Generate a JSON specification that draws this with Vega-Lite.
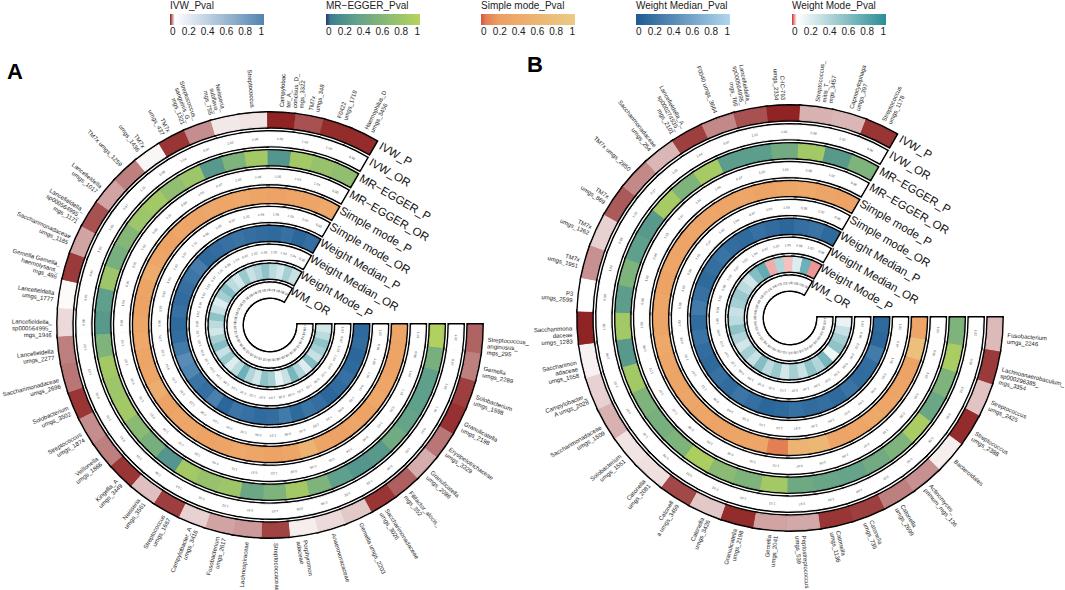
{
"$schema":"https://vega.github.io/schema/vega-lite/v6.json",
"width":1065,"height":590,"padding":0,"autosize":{"type":"none"},"background":"white",
"config":{"view":{"stroke":null},"font":"Liberation Sans",
"legend":{"titleFontSize":10,"titleFontWeight":"normal","labelFontSize":10,"titleColor":"#222","labelColor":"#222","titleFont":"Liberation Sans","labelFont":"Liberation Sans","gradientStrokeWidth":0,"titlePadding":3,"labelOffset":3,"direction":"horizontal","gradientLength":94,"gradientThickness":11,"orient":"none","labelOverlap":false}},
"datasets":{
"taxa":[
{"p":"A","i":0,"n":"Streptococcus_\nanginosus_\nmgs_295","IVW_P":0.016,"IVW_OR":1.02,"EGG_P":0.95,"EGG_OR":1.01,"SM_P":0.3,"SM_OR":1.03,"WMe_P":0.12,"WMe_OR":1.02,"WMo_P":0.25,"WM_OR":1.03},
{"p":"A","i":1,"n":"Gemella\numgs_2289","IVW_P":0.022,"IVW_OR":0.97,"EGG_P":0.5,"EGG_OR":0.98,"SM_P":0.28,"SM_OR":0.96,"WMe_P":0.15,"WMe_OR":0.97,"WMo_P":0.35,"WM_OR":0.96},
{"p":"A","i":2,"n":"Solobacterium\numgs_1598","IVW_P":0.008,"IVW_OR":1.03,"EGG_P":0.3,"EGG_OR":1.04,"SM_P":0.25,"SM_OR":1.05,"WMe_P":0.1,"WMe_OR":1.03,"WMo_P":0.55,"WM_OR":1.04},
{"p":"A","i":3,"n":"Granulicatella\numgs_2198","IVW_P":0.005,"IVW_OR":1.04,"EGG_P":0.3,"EGG_OR":1.05,"SM_P":0.3,"SM_OR":1.04,"WMe_P":0.12,"WMe_OR":1.04,"WMo_P":0.45,"WM_OR":1.05},
{"p":"A","i":4,"n":"Erysipelotrichaceae\numgs_3329","IVW_P":0.02,"IVW_OR":0.97,"EGG_P":0.35,"EGG_OR":0.96,"SM_P":0.35,"SM_OR":0.97,"WMe_P":0.18,"WMe_OR":0.97,"WMo_P":0.3,"WM_OR":0.97},
{"p":"A","i":5,"n":"Granulicatella\numgs_2086","IVW_P":0.032,"IVW_OR":1.02,"EGG_P":0.45,"EGG_OR":1.02,"SM_P":0.25,"SM_OR":1.03,"WMe_P":0.14,"WMe_OR":1.02,"WMo_P":0.6,"WM_OR":1.02},
{"p":"A","i":6,"n":"Filifactor_alocis_\nmgs_352","IVW_P":0.015,"IVW_OR":0.96,"EGG_P":0.25,"EGG_OR":0.95,"SM_P":0.3,"SM_OR":0.96,"WMe_P":0.1,"WMe_OR":0.96,"WMo_P":0.2,"WM_OR":0.95},
{"p":"A","i":7,"n":"Saccharimonadaceae\numgs_3026","IVW_P":0.006,"IVW_OR":1.03,"EGG_P":0.22,"EGG_OR":1.04,"SM_P":0.22,"SM_OR":1.03,"WMe_P":0.16,"WMe_OR":1.03,"WMo_P":0.4,"WM_OR":1.04},
{"p":"A","i":8,"n":"Gemella umgs_2203","IVW_P":0.038,"IVW_OR":1.02,"EGG_P":0.3,"EGG_OR":1.01,"SM_P":0.28,"SM_OR":1.02,"WMe_P":0.2,"WMe_OR":1.02,"WMo_P":0.65,"WM_OR":1.01},
{"p":"A","i":9,"n":"Anaerovoracaceae","IVW_P":0.042,"IVW_OR":0.98,"EGG_P":0.55,"EGG_OR":0.98,"SM_P":0.55,"SM_OR":0.99,"WMe_P":0.12,"WMe_OR":0.98,"WMo_P":0.3,"WM_OR":0.98},
{"p":"A","i":10,"n":"Porphyromon\nadaceae","IVW_P":0.046,"IVW_OR":0.98,"EGG_P":0.85,"EGG_OR":0.99,"SM_P":0.3,"SM_OR":0.98,"WMe_P":0.25,"WMe_OR":0.98,"WMo_P":0.15,"WM_OR":0.99},
{"p":"A","i":11,"n":"Streptococcaceae","IVW_P":0.009,"IVW_OR":1.03,"EGG_P":0.55,"EGG_OR":1.02,"SM_P":0.26,"SM_OR":1.03,"WMe_P":0.15,"WMe_OR":1.03,"WMo_P":0.45,"WM_OR":1.02},
{"p":"A","i":12,"n":"Lachnospiraceae","IVW_P":0.028,"IVW_OR":0.97,"EGG_P":0.4,"EGG_OR":0.97,"SM_P":0.3,"SM_OR":0.96,"WMe_P":0.13,"WMe_OR":0.97,"WMo_P":0.55,"WM_OR":0.97},
{"p":"A","i":13,"n":"Fusobacterium\numgs_2617","IVW_P":0.03,"IVW_OR":1.02,"EGG_P":0.8,"EGG_OR":1.01,"SM_P":0.35,"SM_OR":1.02,"WMe_P":0.18,"WMe_OR":1.02,"WMo_P":0.25,"WM_OR":1.01},
{"p":"A","i":14,"n":"Campylobacter_A\numgs_3416","IVW_P":0.04,"IVW_OR":0.98,"EGG_P":0.75,"EGG_OR":0.99,"SM_P":0.28,"SM_OR":0.98,"WMe_P":0.22,"WMe_OR":0.98,"WMo_P":0.4,"WM_OR":0.98},
{"p":"A","i":15,"n":"Streptococcus\numgs_1667","IVW_P":0.008,"IVW_OR":1.04,"EGG_P":0.85,"EGG_OR":1.05,"SM_P":0.24,"SM_OR":1.04,"WMe_P":0.1,"WMe_OR":1.04,"WMo_P":0.7,"WM_OR":1.05},
{"p":"A","i":16,"n":"Neisseria\numgs_3561","IVW_P":0.036,"IVW_OR":0.98,"EGG_P":0.22,"EGG_OR":0.97,"SM_P":0.3,"SM_OR":0.98,"WMe_P":0.3,"WMe_OR":0.98,"WMo_P":0.35,"WM_OR":0.97},
{"p":"A","i":17,"n":"Kingella_A\numgs_3449","IVW_P":0.006,"IVW_OR":1.04,"EGG_P":0.5,"EGG_OR":1.04,"SM_P":0.32,"SM_OR":1.05,"WMe_P":0.16,"WMe_OR":1.04,"WMo_P":0.2,"WM_OR":1.04},
{"p":"A","i":18,"n":"Veillonella\numgs_1866","IVW_P":0.022,"IVW_OR":0.97,"EGG_P":0.65,"EGG_OR":0.97,"SM_P":0.25,"SM_OR":0.97,"WMe_P":0.2,"WMe_OR":0.97,"WMo_P":0.5,"WM_OR":0.96},
{"p":"A","i":19,"n":"Streptococcus\numgs_1874","IVW_P":0.025,"IVW_OR":1.02,"EGG_P":0.85,"EGG_OR":1.02,"SM_P":0.45,"SM_OR":1.01,"WMe_P":0.35,"WMe_OR":1.02,"WMo_P":0.3,"WM_OR":1.02},
{"p":"A","i":20,"n":"Solobacterium\numgs_3502","IVW_P":0.006,"IVW_OR":0.95,"EGG_P":0.8,"EGG_OR":0.95,"SM_P":0.3,"SM_OR":0.94,"WMe_P":0.4,"WMe_OR":0.95,"WMo_P":0.6,"WM_OR":0.95},
{"p":"A","i":21,"n":"Saccharimonadaceae\numgs_2696","IVW_P":0.02,"IVW_OR":1.03,"EGG_P":0.85,"EGG_OR":1.02,"SM_P":0.28,"SM_OR":1.03,"WMe_P":0.25,"WMe_OR":1.03,"WMo_P":0.45,"WM_OR":1.02},
{"p":"A","i":22,"n":"Lancefieldella\numgs_2277","IVW_P":0.022,"IVW_OR":1.02,"EGG_P":0.55,"EGG_OR":1.02,"SM_P":0.35,"SM_OR":1.01,"WMe_P":0.15,"WMe_OR":1.02,"WMo_P":0.25,"WM_OR":1.02},
{"p":"A","i":23,"n":"Lancefieldella_\nsp000564995_\nmgs_1946","IVW_P":0.042,"IVW_OR":0.98,"EGG_P":0.25,"EGG_OR":0.98,"SM_P":0.3,"SM_OR":0.98,"WMe_P":0.12,"WMe_OR":0.98,"WMo_P":0.35,"WM_OR":0.98},
{"p":"A","i":24,"n":"Lancefieldella\numgs_1777","IVW_P":0.049,"IVW_OR":1.02,"EGG_P":0.3,"EGG_OR":1.01,"SM_P":0.25,"SM_OR":1.02,"WMe_P":0.18,"WMe_OR":1.02,"WMo_P":0.55,"WM_OR":1.01},
{"p":"A","i":25,"n":"Gemella Gemella_\nhaemolysans_\nmgs_486","IVW_P":0.007,"IVW_OR":0.96,"EGG_P":0.8,"EGG_OR":0.96,"SM_P":0.28,"SM_OR":0.95,"WMe_P":0.14,"WMe_OR":0.96,"WMo_P":0.3,"WM_OR":0.96},
{"p":"A","i":26,"n":"Saccharimonadaceae\numgs_1185","IVW_P":0.03,"IVW_OR":1.02,"EGG_P":0.5,"EGG_OR":1.02,"SM_P":0.4,"SM_OR":1.03,"WMe_P":0.16,"WMe_OR":1.02,"WMo_P":0.2,"WM_OR":1.02},
{"p":"A","i":27,"n":"Lancefieldella_\nsp000564995_\nmgs_1171","IVW_P":0.012,"IVW_OR":1.03,"EGG_P":0.6,"EGG_OR":1.03,"SM_P":0.3,"SM_OR":1.02,"WMe_P":0.22,"WMe_OR":1.03,"WMo_P":0.45,"WM_OR":1.03},
{"p":"A","i":28,"n":"Lancefieldella\numgs_1017","IVW_P":0.03,"IVW_OR":0.97,"EGG_P":0.8,"EGG_OR":0.98,"SM_P":0.26,"SM_OR":0.97,"WMe_P":0.28,"WMe_OR":0.97,"WMo_P":0.6,"WM_OR":0.97},
{"p":"A","i":29,"n":"TM7x umgs_1259","IVW_P":0.022,"IVW_OR":1.02,"EGG_P":0.85,"EGG_OR":1.02,"SM_P":0.3,"SM_OR":1.02,"WMe_P":0.12,"WMe_OR":1.01,"WMo_P":0.35,"WM_OR":1.02},
{"p":"A","i":30,"n":"TM7x\numgs_1436","IVW_P":0.048,"IVW_OR":0.98,"EGG_P":0.7,"EGG_OR":0.98,"SM_P":0.28,"SM_OR":0.98,"WMe_P":0.15,"WMe_OR":0.98,"WMo_P":0.25,"WM_OR":0.99},
{"p":"A","i":31,"n":"TM7x\numgs_437","IVW_P":0.006,"IVW_OR":1.04,"EGG_P":0.8,"EGG_OR":1.04,"SM_P":0.32,"SM_OR":1.05,"WMe_P":0.18,"WMe_OR":1.04,"WMo_P":0.5,"WM_OR":1.04},
{"p":"A","i":32,"n":"Streptococcus_\nsanguinis_G_\nmgs_1321","IVW_P":0.025,"IVW_OR":0.97,"EGG_P":0.25,"EGG_OR":0.97,"SM_P":0.3,"SM_OR":0.97,"WMe_P":0.2,"WMe_OR":0.97,"WMo_P":0.3,"WM_OR":0.97},
{"p":"A","i":33,"n":"Neisseria_\nsubflava_\nmgs_755","IVW_P":0.045,"IVW_OR":1.02,"EGG_P":0.55,"EGG_OR":1.02,"SM_P":0.35,"SM_OR":1.01,"WMe_P":0.16,"WMe_OR":1.02,"WMo_P":0.4,"WM_OR":1.02},
{"p":"A","i":34,"n":"Streptococcus","IVW_P":0.044,"IVW_OR":0.98,"EGG_P":0.85,"EGG_OR":0.98,"SM_P":0.28,"SM_OR":0.98,"WMe_P":0.14,"WMe_OR":0.98,"WMo_P":0.55,"WM_OR":0.98},
{"p":"A","i":35,"n":"Campylobac\nter_A_\nconcisus_D_\nmgs_3322","IVW_P":0.002,"IVW_OR":1.05,"EGG_P":0.22,"EGG_OR":1.05,"SM_P":0.25,"SM_OR":1.06,"WMe_P":0.12,"WMe_OR":1.05,"WMo_P":0.35,"WM_OR":1.05},
{"p":"A","i":36,"n":"TM7x\numgs_348","IVW_P":0.012,"IVW_OR":1.03,"EGG_P":0.85,"EGG_OR":1.03,"SM_P":0.3,"SM_OR":1.03,"WMe_P":0.18,"WMe_OR":1.03,"WMo_P":0.25,"WM_OR":1.03},
{"p":"A","i":37,"n":"F0422\numgs_1719","IVW_P":0.004,"IVW_OR":1.04,"EGG_P":0.75,"EGG_OR":1.04,"SM_P":0.28,"SM_OR":1.04,"WMe_P":0.1,"WMe_OR":1.04,"WMo_P":0.45,"WM_OR":1.04},
{"p":"A","i":38,"n":"Haemophilus_D\numgs_3456","IVW_P":0.004,"IVW_OR":0.95,"EGG_P":0.7,"EGG_OR":0.95,"SM_P":0.35,"SM_OR":0.95,"WMe_P":0.16,"WMe_OR":0.95,"WMo_P":0.3,"WM_OR":0.95},
{"p":"B","i":0,"n":"Fusobacterium\numgs_2246","IVW_P":0.035,"IVW_OR":1.02,"EGG_P":0.55,"EGG_OR":1.02,"SM_P":0.3,"SM_OR":1.02,"WMe_P":0.12,"WMe_OR":1.02,"WMo_P":0.15,"WM_OR":1.02},
{"p":"B","i":1,"n":"Lachnoanaerobaculum_\nsp000296385_\nmgs_3354","IVW_P":0.007,"IVW_OR":0.96,"EGG_P":0.9,"EGG_OR":0.96,"SM_P":0.8,"SM_OR":0.97,"WMe_P":0.1,"WMe_OR":0.96,"WMo_P":0.3,"WM_OR":0.96},
{"p":"B","i":2,"n":"Streptococcus\numgs_2425","IVW_P":0.037,"IVW_OR":1.02,"EGG_P":0.55,"EGG_OR":1.02,"SM_P":0.25,"SM_OR":1.01,"WMe_P":0.25,"WMe_OR":1.02,"WMo_P":0.45,"WM_OR":1.02},
{"p":"B","i":3,"n":"Streptococcus\numgs_2388","IVW_P":0.004,"IVW_OR":0.95,"EGG_P":0.4,"EGG_OR":0.95,"SM_P":0.28,"SM_OR":0.95,"WMe_P":0.15,"WMe_OR":0.95,"WMo_P":0.55,"WM_OR":0.95},
{"p":"B","i":4,"n":"Bacteroidales","IVW_P":0.046,"IVW_OR":0.98,"EGG_P":0.9,"EGG_OR":0.98,"SM_P":0.3,"SM_OR":0.98,"WMe_P":0.14,"WMe_OR":0.98,"WMo_P":0.12,"WM_OR":0.98},
{"p":"B","i":5,"n":"Actinomyces_\nprimum_mgs_136","IVW_P":0.026,"IVW_OR":1.03,"EGG_P":0.55,"EGG_OR":1.03,"SM_P":0.35,"SM_OR":1.03,"WMe_P":0.2,"WMe_OR":1.03,"WMo_P":0.65,"WM_OR":1.03},
{"p":"B","i":6,"n":"Catonella\numgs_2699","IVW_P":0.022,"IVW_OR":0.97,"EGG_P":0.45,"EGG_OR":0.97,"SM_P":0.3,"SM_OR":0.97,"WMe_P":0.12,"WMe_OR":0.97,"WMo_P":0.4,"WM_OR":0.97},
{"p":"B","i":7,"n":"Catonella\numgs_735","IVW_P":0.008,"IVW_OR":1.04,"EGG_P":0.35,"EGG_OR":1.04,"SM_P":0.28,"SM_OR":1.04,"WMe_P":0.16,"WMe_OR":1.04,"WMo_P":0.55,"WM_OR":1.04},
{"p":"B","i":8,"n":"Catonella\numgs_1136","IVW_P":0.006,"IVW_OR":1.04,"EGG_P":0.38,"EGG_OR":1.05,"SM_P":0.6,"SM_OR":1.04,"WMe_P":0.14,"WMe_OR":1.04,"WMo_P":0.3,"WM_OR":1.05},
{"p":"B","i":9,"n":"Peptostreptococcus\numgs_539","IVW_P":0.031,"IVW_OR":0.97,"EGG_P":0.42,"EGG_OR":0.97,"SM_P":0.55,"SM_OR":0.97,"WMe_P":0.18,"WMe_OR":0.97,"WMo_P":0.45,"WM_OR":0.97},
{"p":"B","i":10,"n":"Gemella\numgs_2041","IVW_P":0.03,"IVW_OR":1.02,"EGG_P":0.85,"EGG_OR":1.02,"SM_P":0.06,"SM_OR":1.03,"WMe_P":0.12,"WMe_OR":1.02,"WMo_P":0.25,"WM_OR":1.02},
{"p":"B","i":11,"n":"Granulicatella\numgs_2198","IVW_P":0.004,"IVW_OR":1.05,"EGG_P":0.55,"EGG_OR":1.05,"SM_P":0.3,"SM_OR":1.05,"WMe_P":0.1,"WMe_OR":1.05,"WMo_P":0.5,"WM_OR":1.05},
{"p":"B","i":12,"n":"Catonella\numgs_3426","IVW_P":0.038,"IVW_OR":0.98,"EGG_P":0.65,"EGG_OR":0.98,"SM_P":0.28,"SM_OR":0.98,"WMe_P":0.16,"WMe_OR":0.98,"WMo_P":0.35,"WM_OR":0.98},
{"p":"B","i":13,"n":"Catonell\na umgs_3459","IVW_P":0.01,"IVW_OR":1.03,"EGG_P":0.92,"EGG_OR":1.03,"SM_P":0.25,"SM_OR":1.03,"WMe_P":0.22,"WMe_OR":1.03,"WMo_P":0.6,"WM_OR":1.03},
{"p":"B","i":14,"n":"Catonella\numgs_2081","IVW_P":0.043,"IVW_OR":0.98,"EGG_P":0.55,"EGG_OR":0.98,"SM_P":0.3,"SM_OR":0.98,"WMe_P":0.14,"WMe_OR":0.98,"WMo_P":0.3,"WM_OR":0.98},
{"p":"B","i":15,"n":"Solobacterium\numgs_1551","IVW_P":0.044,"IVW_OR":1.02,"EGG_P":0.5,"EGG_OR":1.02,"SM_P":0.32,"SM_OR":1.02,"WMe_P":0.18,"WMe_OR":1.02,"WMo_P":0.45,"WM_OR":1.02},
{"p":"B","i":16,"n":"Saccharimonadaceae\numgs_1509","IVW_P":0.033,"IVW_OR":0.97,"EGG_P":0.55,"EGG_OR":0.97,"SM_P":0.28,"SM_OR":0.97,"WMe_P":0.12,"WMe_OR":0.97,"WMo_P":0.25,"WM_OR":0.97},
{"p":"B","i":17,"n":"Campylobacter_\nA umgs_2028","IVW_P":0.04,"IVW_OR":1.02,"EGG_P":0.85,"EGG_OR":1.02,"SM_P":0.3,"SM_OR":1.02,"WMe_P":0.15,"WMe_OR":1.02,"WMo_P":0.4,"WM_OR":1.02},
{"p":"B","i":18,"n":"Saccharimon\nadaceae\numgs_1558","IVW_P":0.047,"IVW_OR":0.98,"EGG_P":0.25,"EGG_OR":0.98,"SM_P":0.35,"SM_OR":0.98,"WMe_P":0.2,"WMe_OR":0.98,"WMo_P":0.55,"WM_OR":0.98},
{"p":"B","i":19,"n":"Saccharimona\ndaceae\numgs_1283","IVW_P":0.002,"IVW_OR":1.05,"EGG_P":0.85,"EGG_OR":1.05,"SM_P":0.28,"SM_OR":1.05,"WMe_P":0.14,"WMe_OR":1.05,"WMo_P":0.35,"WM_OR":1.05},
{"p":"B","i":20,"n":"P3\numgs_2599","IVW_P":0.05,"IVW_OR":0.98,"EGG_P":0.28,"EGG_OR":0.98,"SM_P":0.3,"SM_OR":0.98,"WMe_P":0.25,"WMe_OR":0.98,"WMo_P":0.3,"WM_OR":0.98},
{"p":"B","i":21,"n":"TM7x\numgs_1951","IVW_P":0.026,"IVW_OR":1.02,"EGG_P":0.55,"EGG_OR":1.02,"SM_P":0.26,"SM_OR":1.02,"WMe_P":0.18,"WMe_OR":1.02,"WMo_P":0.45,"WM_OR":1.02},
{"p":"B","i":22,"n":"TM7x\numgs_1262","IVW_P":0.04,"IVW_OR":0.98,"EGG_P":0.3,"EGG_OR":0.98,"SM_P":0.3,"SM_OR":0.98,"WMe_P":0.12,"WMe_OR":0.98,"WMo_P":0.5,"WM_OR":0.98},
{"p":"B","i":23,"n":"TM7x\numgs_869","IVW_P":0.014,"IVW_OR":1.03,"EGG_P":0.25,"EGG_OR":1.03,"SM_P":0.28,"SM_OR":1.03,"WMe_P":0.16,"WMe_OR":1.03,"WMo_P":0.35,"WM_OR":1.03},
{"p":"B","i":24,"n":"TM7x umgs_2850","IVW_P":0.024,"IVW_OR":0.97,"EGG_P":0.88,"EGG_OR":0.97,"SM_P":0.32,"SM_OR":0.97,"WMe_P":0.2,"WMe_OR":0.97,"WMo_P":0.25,"WM_OR":0.97},
{"p":"B","i":25,"n":"Saccharimonadaceae\numgs_254","IVW_P":0.034,"IVW_OR":1.02,"EGG_P":0.55,"EGG_OR":1.02,"SM_P":0.3,"SM_OR":1.02,"WMe_P":0.15,"WMe_OR":1.02,"WMo_P":0.6,"WM_OR":1.02},
{"p":"B","i":26,"n":"Lancefieldella_A_\nsp000274535_\nmgs_2101","IVW_P":0.008,"IVW_OR":1.04,"EGG_P":0.88,"EGG_OR":1.04,"SM_P":0.28,"SM_OR":1.04,"WMe_P":0.12,"WMe_OR":1.04,"WMo_P":0.75,"WM_OR":1.04},
{"p":"B","i":27,"n":"F0040 umgs_3664","IVW_P":0.024,"IVW_OR":0.97,"EGG_P":0.28,"EGG_OR":0.97,"SM_P":0.3,"SM_OR":0.97,"WMe_P":0.18,"WMe_OR":0.97,"WMo_P":0.03,"WM_OR":0.97},
{"p":"B","i":28,"n":"Lancefieldella_\nsp000564995_\nmgs_766","IVW_P":0.012,"IVW_OR":1.03,"EGG_P":0.28,"EGG_OR":1.03,"SM_P":0.25,"SM_OR":1.03,"WMe_P":0.14,"WMe_OR":1.03,"WMo_P":0.4,"WM_OR":1.03},
{"p":"B","i":29,"n":"C-IC-793\numgs_2334","IVW_P":0.002,"IVW_OR":1.05,"EGG_P":0.45,"EGG_OR":1.05,"SM_P":0.3,"SM_OR":1.05,"WMe_P":0.1,"WMe_OR":1.05,"WMo_P":0.035,"WM_OR":1.05},
{"p":"B","i":30,"n":"Streptococcus_\nmitis_T_\nmgs_3457","IVW_P":0.033,"IVW_OR":0.98,"EGG_P":0.85,"EGG_OR":0.98,"SM_P":0.35,"SM_OR":0.98,"WMe_P":0.16,"WMe_OR":0.98,"WMo_P":0.2,"WM_OR":0.98},
{"p":"B","i":31,"n":"Capnocytophaga\numgs_397","IVW_P":0.034,"IVW_OR":1.02,"EGG_P":0.25,"EGG_OR":1.02,"SM_P":0.28,"SM_OR":1.02,"WMe_P":0.2,"WMe_OR":1.02,"WMo_P":0.7,"WM_OR":1.02},
{"p":"B","i":32,"n":"Streptococcus\numgs_1178","IVW_P":0.006,"IVW_OR":0.96,"EGG_P":0.55,"EGG_OR":0.96,"SM_P":0.25,"SM_OR":0.96,"WMe_P":0.12,"WMe_OR":0.96,"WMo_P":0.025,"WM_OR":0.96}
],
"tracks":[
{"p":"A","t":"IVW_P","lab":"IVW_P"},{"p":"A","t":"IVW_OR","lab":"IVW_OR"},{"p":"A","t":"EGG_P","lab":"MR−EGGER_P"},{"p":"A","t":"EGG_OR","lab":"MR−EGGER_OR"},{"p":"A","t":"SM_P","lab":"Simple mode_P"},{"p":"A","t":"SM_OR","lab":"Simple mode_OR"},{"p":"A","t":"WMe_P","lab":"Weight Median_P"},{"p":"A","t":"WMe_OR","lab":"Weight Median_OR"},{"p":"A","t":"WMo_P","lab":"Weight Mode_P"},{"p":"A","t":"WM_OR","lab":"WM_OR"},
{"p":"B","t":"IVW_P","lab":"IVW_P"},{"p":"B","t":"IVW_OR","lab":"IVW_OR"},{"p":"B","t":"EGG_P","lab":"MR−EGGER_P"},{"p":"B","t":"EGG_OR","lab":"MR−EGGER_OR"},{"p":"B","t":"SM_P","lab":"Simple mode_P"},{"p":"B","t":"SM_OR","lab":"Simple mode_OR"},{"p":"B","t":"WMe_P","lab":"Weight Median_P"},{"p":"B","t":"WMe_OR","lab":"Weight Median_OR"},{"p":"B","t":"WMo_P","lab":"Weight Mode_P"},{"p":"B","t":"WM_OR","lab":"WM_OR"}
],
"panels":[{"p":"A"},{"p":"B"}]
},
"encoding":{
"x":{"field":"p","type":"nominal","scale":{"type":"point","domain":["A","B"],"range":[270,790],"padding":0},"axis":null},
"y":{"field":"p","type":"nominal","scale":{"type":"point","domain":["A","B"],"range":[325,318],"padding":0},"axis":null}
},
"layer":[
{
"data":{"name":"taxa"},
"transform":[{"filter":{"field":"p","equal":"A"}}],
"encoding":{"theta":{"field":"i","type":"ordinal","scale":{"type":"band","range":[1.5708,6.8068],"paddingInner":0,"paddingOuter":0}},
"radius":{"field":"t","type":"nominal","scale":{"type":"band","domain":["WM_OR","WMo_P","WMe_OR","WMe_P","SM_OR","SM_P","EGG_OR","EGG_P","IVW_OR","IVW_P"],"range":[28,212],"paddingInner":0.27,"paddingOuter":0}}},
"layer":[
{"transform":[{"fold":["IVW_P","IVW_OR","EGG_P","EGG_OR","SM_P","SM_OR","WMe_P","WMe_OR","WMo_P","WM_OR"],"as":["t","v"]}],
"mark":{"type":"arc","fill":"white","stroke":"black","strokeWidth":3.8}},
{"transform":[{"fold":["IVW_P"],"as":["t","v"]}],"mark":{"type":"arc","filled":false,"strokeWidth":1},
"encoding":{"stroke":{"field":"v","type":"quantitative","scale":{"domain":[0,0.05,1],"range":["#8b1a1a","#ffffff","#5383b0"],"interpolate":"rgb"},"legend":null}}},
{"transform":[{"fold":["IVW_P"],"as":["t","v"]}],"mark":{"type":"arc"},
"encoding":{"fill":{"field":"v","type":"quantitative","scale":{"domain":[0,0.05,1],"range":["#8b1a1a","#ffffff","#5383b0"],"interpolate":"rgb"},"legend":{"type":"gradient","title":"IVW_Pval","orient":"none","legendX":170,"legendY":1,"values":[0,0.2,0.4,0.6,0.8,1],"format":"~g"}}}},
{"transform":[{"fold":["EGG_P"],"as":["t","v"]}],"mark":{"type":"arc","filled":false,"strokeWidth":1},
"encoding":{"stroke":{"field":"v","type":"quantitative","scale":{"domain":[0,0.05,0.3,1],"range":["#2a3576","#3d7f8e","#5fa08c","#b6d45c"],"interpolate":"rgb"},"legend":null}}},
{"transform":[{"fold":["EGG_P"],"as":["t","v"]}],"mark":{"type":"arc"},
"encoding":{"fill":{"field":"v","type":"quantitative","scale":{"domain":[0,0.05,0.3,1],"range":["#2a3576","#3d7f8e","#5fa08c","#b6d45c"],"interpolate":"rgb"},"legend":{"type":"gradient","title":"MR−EGGER_Pval","orient":"none","legendX":326,"legendY":1,"values":[0,0.2,0.4,0.6,0.8,1],"format":"~g"}}}},
{"transform":[{"fold":["SM_P"],"as":["t","v"]}],"mark":{"type":"arc","filled":false,"strokeWidth":1},
"encoding":{"stroke":{"field":"v","type":"quantitative","scale":{"domain":[0,0.05,0.2,1],"range":["#d2553d","#e27e52","#eda064","#ebcb84"],"interpolate":"rgb"},"legend":null}}},
{"transform":[{"fold":["SM_P"],"as":["t","v"]}],"mark":{"type":"arc"},
"encoding":{"fill":{"field":"v","type":"quantitative","scale":{"domain":[0,0.05,0.2,1],"range":["#d2553d","#e27e52","#eda064","#ebcb84"],"interpolate":"rgb"},"legend":{"type":"gradient","title":"Simple mode_Pval","orient":"none","legendX":481,"legendY":1,"values":[0,0.2,0.4,0.6,0.8,1],"format":"~g"}}}},
{"transform":[{"fold":["WMe_P"],"as":["t","v"]}],"mark":{"type":"arc","filled":false,"strokeWidth":1},
"encoding":{"stroke":{"field":"v","type":"quantitative","scale":{"domain":[0,1],"range":["#1d5b92","#b0d6ee"],"interpolate":"rgb"},"legend":null}}},
{"transform":[{"fold":["WMe_P"],"as":["t","v"]}],"mark":{"type":"arc"},
"encoding":{"fill":{"field":"v","type":"quantitative","scale":{"domain":[0,1],"range":["#1d5b92","#b0d6ee"],"interpolate":"rgb"},"legend":{"type":"gradient","title":"Weight Median_Pval","orient":"none","legendX":636,"legendY":1,"values":[0,0.2,0.4,0.6,0.8,1],"format":"~g"}}}},
{"transform":[{"fold":["WMo_P"],"as":["t","v"]}],"mark":{"type":"arc","filled":false,"strokeWidth":1},
"encoding":{"stroke":{"field":"v","type":"quantitative","scale":{"domain":[0,0.05,1],"range":["#d62f2a","#ffffff","#2a8d97"],"interpolate":"rgb"},"legend":null}}},
{"transform":[{"fold":["WMo_P"],"as":["t","v"]}],"mark":{"type":"arc"},
"encoding":{"fill":{"field":"v","type":"quantitative","scale":{"domain":[0,0.05,1],"range":["#d62f2a","#ffffff","#2a8d97"],"interpolate":"rgb"},"legend":{"type":"gradient","title":"Weight Mode_Pval","orient":"none","legendX":792,"legendY":1,"values":[0,0.2,0.4,0.6,0.8,1],"format":"~g"}}}},
{"transform":[{"fold":["IVW_OR","EGG_OR","SM_OR","WMe_OR","WM_OR"],"as":["t","v"]}],
"mark":{"type":"arc","fill":"white","stroke":"white","strokeWidth":1}},
{"transform":[{"fold":["IVW_OR","EGG_OR","SM_OR","WMe_OR","WM_OR"],"as":["t","v"]}],
"mark":{"type":"text","fontSize":3.3,"color":"#555","baseline":"middle","align":"center"},
"encoding":{"theta":{"field":"i","type":"ordinal","bandPosition":0.5},
"radius":{"field":"t","type":"nominal","bandPosition":0.5},
"text":{"field":"v","type":"quantitative","format":".2f"},
"angle":{"field":"i","type":"quantitative","scale":{"domain":[-0.5,38.5],"range":[90,390]},"legend":null}}},
{"transform":[{"filter":{"or":[{"field":"i","lte":11},{"field":"i","gte":35}]}}],
"mark":{"type":"text","fontSize":6,"lineHeight":6.6,"lineBreak":"\n","align":"left","baseline":"middle","radiusOffset":13,"color":"#222"},
"encoding":{"theta":{"field":"i","type":"ordinal","bandPosition":0.5},
"radius":{"datum":"IVW_P","type":"nominal","bandPosition":0.5},
"text":{"field":"n"},
"angle":{"field":"i","type":"quantitative","scale":{"domain":[-0.5,38.5],"range":[0,300]},"legend":null}}},
{"transform":[{"filter":{"field":"i","range":[12,34]}}],
"mark":{"type":"text","fontSize":6,"lineHeight":6.6,"lineBreak":"\n","align":"right","baseline":"middle","radiusOffset":13,"color":"#222"},
"encoding":{"theta":{"field":"i","type":"ordinal","bandPosition":0.5},
"radius":{"datum":"IVW_P","type":"nominal","bandPosition":0.5},
"text":{"field":"n"},
"angle":{"field":"i","type":"quantitative","scale":{"domain":[-0.5,38.5],"range":[-180,120]},"legend":null}}}
],
"resolve":{"scale":{"fill":"independent","stroke":"independent","angle":"independent"}}
},
{
"data":{"name":"taxa"},
"transform":[{"filter":{"field":"p","equal":"B"}}],
"encoding":{"theta":{"field":"i","type":"ordinal","scale":{"type":"band","range":[1.5708,6.8068],"paddingInner":0,"paddingOuter":0}},
"radius":{"field":"t","type":"nominal","scale":{"type":"band","domain":["WM_OR","WMo_P","WMe_OR","WMe_P","SM_OR","SM_P","EGG_OR","EGG_P","IVW_OR","IVW_P"],"range":[28,212],"paddingInner":0.27,"paddingOuter":0}}},
"layer":[
{"transform":[{"fold":["IVW_P","IVW_OR","EGG_P","EGG_OR","SM_P","SM_OR","WMe_P","WMe_OR","WMo_P","WM_OR"],"as":["t","v"]}],
"mark":{"type":"arc","fill":"white","stroke":"black","strokeWidth":3.8}},
{"transform":[{"fold":["IVW_P"],"as":["t","v"]}],"mark":{"type":"arc","filled":false,"strokeWidth":1},
"encoding":{"stroke":{"field":"v","type":"quantitative","scale":{"domain":[0,0.05,1],"range":["#8b1a1a","#ffffff","#5383b0"],"interpolate":"rgb"},"legend":null}}},
{"transform":[{"fold":["IVW_P"],"as":["t","v"]}],"mark":{"type":"arc"},
"encoding":{"fill":{"field":"v","type":"quantitative","scale":{"domain":[0,0.05,1],"range":["#8b1a1a","#ffffff","#5383b0"],"interpolate":"rgb"},"legend":null}}},
{"transform":[{"fold":["EGG_P"],"as":["t","v"]}],"mark":{"type":"arc","filled":false,"strokeWidth":1},
"encoding":{"stroke":{"field":"v","type":"quantitative","scale":{"domain":[0,0.05,0.3,1],"range":["#2a3576","#3d7f8e","#5fa08c","#b6d45c"],"interpolate":"rgb"},"legend":null}}},
{"transform":[{"fold":["EGG_P"],"as":["t","v"]}],"mark":{"type":"arc"},
"encoding":{"fill":{"field":"v","type":"quantitative","scale":{"domain":[0,0.05,0.3,1],"range":["#2a3576","#3d7f8e","#5fa08c","#b6d45c"],"interpolate":"rgb"},"legend":null}}},
{"transform":[{"fold":["SM_P"],"as":["t","v"]}],"mark":{"type":"arc","filled":false,"strokeWidth":1},
"encoding":{"stroke":{"field":"v","type":"quantitative","scale":{"domain":[0,0.05,0.2,1],"range":["#d2553d","#e27e52","#eda064","#ebcb84"],"interpolate":"rgb"},"legend":null}}},
{"transform":[{"fold":["SM_P"],"as":["t","v"]}],"mark":{"type":"arc"},
"encoding":{"fill":{"field":"v","type":"quantitative","scale":{"domain":[0,0.05,0.2,1],"range":["#d2553d","#e27e52","#eda064","#ebcb84"],"interpolate":"rgb"},"legend":null}}},
{"transform":[{"fold":["WMe_P"],"as":["t","v"]}],"mark":{"type":"arc","filled":false,"strokeWidth":1},
"encoding":{"stroke":{"field":"v","type":"quantitative","scale":{"domain":[0,1],"range":["#1d5b92","#b0d6ee"],"interpolate":"rgb"},"legend":null}}},
{"transform":[{"fold":["WMe_P"],"as":["t","v"]}],"mark":{"type":"arc"},
"encoding":{"fill":{"field":"v","type":"quantitative","scale":{"domain":[0,1],"range":["#1d5b92","#b0d6ee"],"interpolate":"rgb"},"legend":null}}},
{"transform":[{"fold":["WMo_P"],"as":["t","v"]}],"mark":{"type":"arc","filled":false,"strokeWidth":1},
"encoding":{"stroke":{"field":"v","type":"quantitative","scale":{"domain":[0,0.05,1],"range":["#d62f2a","#ffffff","#2a8d97"],"interpolate":"rgb"},"legend":null}}},
{"transform":[{"fold":["WMo_P"],"as":["t","v"]}],"mark":{"type":"arc"},
"encoding":{"fill":{"field":"v","type":"quantitative","scale":{"domain":[0,0.05,1],"range":["#d62f2a","#ffffff","#2a8d97"],"interpolate":"rgb"},"legend":null}}},
{"transform":[{"fold":["IVW_OR","EGG_OR","SM_OR","WMe_OR","WM_OR"],"as":["t","v"]}],
"mark":{"type":"arc","fill":"white","stroke":"white","strokeWidth":1}},
{"transform":[{"fold":["IVW_OR","EGG_OR","SM_OR","WMe_OR","WM_OR"],"as":["t","v"]}],
"mark":{"type":"text","fontSize":3.3,"color":"#555","baseline":"middle","align":"center"},
"encoding":{"theta":{"field":"i","type":"ordinal","bandPosition":0.5},
"radius":{"field":"t","type":"nominal","bandPosition":0.5},
"text":{"field":"v","type":"quantitative","format":".2f"},
"angle":{"field":"i","type":"quantitative","scale":{"domain":[-0.5,32.5],"range":[90,390]},"legend":null}}},
{"transform":[{"filter":{"or":[{"field":"i","lte":9},{"field":"i","gte":30}]}}],
"mark":{"type":"text","fontSize":6,"lineHeight":6.6,"lineBreak":"\n","align":"left","baseline":"middle","radiusOffset":13,"color":"#222"},
"encoding":{"theta":{"field":"i","type":"ordinal","bandPosition":0.5},
"radius":{"datum":"IVW_P","type":"nominal","bandPosition":0.5},
"text":{"field":"n"},
"angle":{"field":"i","type":"quantitative","scale":{"domain":[-0.5,32.5],"range":[0,300]},"legend":null}}},
{"transform":[{"filter":{"field":"i","range":[10,29]}}],
"mark":{"type":"text","fontSize":6,"lineHeight":6.6,"lineBreak":"\n","align":"right","baseline":"middle","radiusOffset":13,"color":"#222"},
"encoding":{"theta":{"field":"i","type":"ordinal","bandPosition":0.5},
"radius":{"datum":"IVW_P","type":"nominal","bandPosition":0.5},
"text":{"field":"n"},
"angle":{"field":"i","type":"quantitative","scale":{"domain":[-0.5,32.5],"range":[-180,120]},"legend":null}}}
],
"resolve":{"scale":{"fill":"independent","stroke":"independent","angle":"independent"}}
},
{
"data":{"name":"tracks"},
"mark":{"type":"text","angle":30,"align":"left","baseline":"middle","fontSize":11.5,"color":"#111","dy":-5},
"encoding":{"theta":{"value":0.55},
"radius":{"field":"t","type":"nominal","bandPosition":0.5,"scale":{"type":"band","domain":["WM_OR","WMo_P","WMe_OR","WMe_P","SM_OR","SM_P","EGG_OR","EGG_P","IVW_OR","IVW_P"],"range":[28,212],"paddingInner":0.27,"paddingOuter":0}},
"text":{"field":"lab"}}
},
{
"data":{"name":"panels"},
"mark":{"type":"text","fontSize":22,"fontWeight":"bold","dx":-255,"dy":-253,"align":"center","baseline":"middle","color":"black"},
"encoding":{"text":{"field":"p"}}
}
],
"resolve":{"scale":{"fill":"independent","stroke":"independent","angle":"independent","theta":"independent"}}
}
